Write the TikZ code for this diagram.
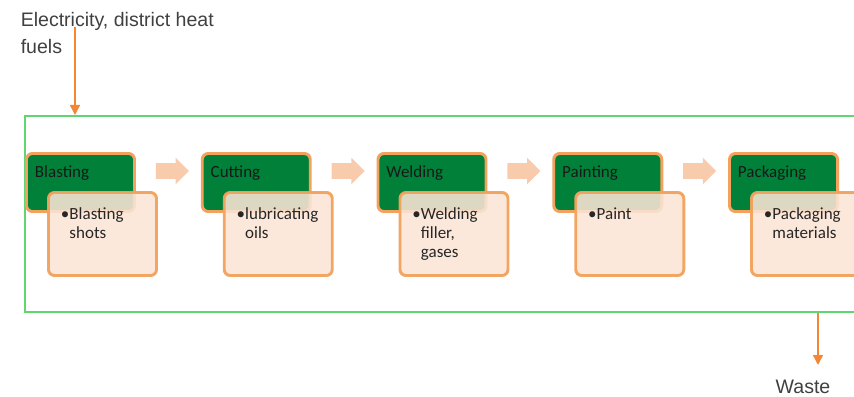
\documentclass[tikz,border=0pt]{standalone}
\usepackage{fontspec}
\setmainfont{Carlito}
\newfontfamily\notefont{Liberation Sans}
\usetikzlibrary{arrows.meta, shapes.arrows}

\definecolor{stepgreen}{RGB}{0,128,56}
\definecolor{steporange}{RGB}{242,162,92}
\definecolor{steppeach}{RGB}{251,229,214}
\definecolor{joinpeach}{RGB}{248,203,173}
\definecolor{framegreen}{RGB}{96,214,112}
\definecolor{flowcolor}{RGB}{245,135,50}
\definecolor{notegray}{RGB}{64,64,64}

\tikzset{
	stephead/.style = {draw = steporange, line width = 2.1pt, fill = stepgreen,
		rounded corners = 0.15cm, minimum width = 2.7cm, inner xsep = 0.2125cm,
		inner ysep = 0pt, text width = 2.275cm, align = left,
		text height = 0.6cm, text depth = 0.85cm, text = black!90,
		font = \fontsize{12.1}{13.5}\selectfont},
	stepitems/.style = {draw = steporange, line width = 2.1pt, fill = steppeach,
		fill opacity = 0.88, draw opacity = 0.95, text opacity = 1,
		rounded corners = 0.15cm, minimum width = 2.7cm, inner xsep = 0.3125cm,
		inner ysep = 0pt, text width = 2.075cm, align = left,
		text height = 0.675cm, text depth = 1.4cm, text = black!85,
		font = \fontsize{12.1}{13.5}\selectfont},
	stepjoin/.style = {single arrow, fill = joinpeach, draw = none,
		minimum height = 0.825cm, inner xsep = 0pt, inner ysep = 0.1875cm,
		single arrow head extend = 0.1375cm},
	flow/.style = {draw = flowcolor, line width = 1pt,
		-{Triangle[width = 0.25cm, length = 0.25cm]}},
	note/.style = {inner sep = 0pt, text = notegray, align = left,
		font = \notefont\fontsize{13.9}{19.2}\selectfont}
}

% bullet with the lines hanging under the first word
\newcommand{\items}[1]{\textbullet\begin{tabular}[t]{@{}l@{}}#1\end{tabular}}

\begin{document}
\begin{tikzpicture}[x = 0.025cm, y = -0.025cm]
	\useasboundingbox (0,0) rectangle (854,396);
	\clip (0,0) rectangle (854,396);

	% plant boundary
	\node[draw = framegreen, line width = 1.4pt, minimum width = 21.375cm,
		minimum height = 4.9cm, inner sep = 0pt] (plant) at (452.5,214) {};

	% energy in, waste out
	\node[note, anchor = north west] (energy) at (20.5,12) {Electricity, district heat\\fuels};
	\coordinate (inlet) at (75,27);
	\draw[flow] (inlet) -- (inlet |- plant.north);
	\node[note] (waste) at (803,387) {Waste};
	\coordinate (outlet) at (818,365);
	\draw[flow] (plant.south -| outlet) -- (outlet);

	% arrows between the steps
	\node[stepjoin] (join1) at (168.5,171) {};
	\node[stepjoin] (join2) at (344.25,171) {};
	\node[stepjoin] (join3) at (520,171) {};
	\node[stepjoin] (join4) at (695.75,171) {};

	% process steps
	\node[stephead] (blasting) at (80.5,182.5) {Blasting};
	\node[stepitems] (blastingin) at (102.5,234) {\items{Blasting\\shots}};

	\node[stephead] (cutting) at (256.25,182.5) {Cutting};
	\node[stepitems] (cuttingin) at (278.25,234) {\items{lubricating\\oils}};

	\node[stephead] (welding) at (432,182.5) {Welding};
	\node[stepitems] (weldingin) at (454,234) {\items{Welding\\filler,\\gases}};

	\node[stephead] (painting) at (607.75,182.5) {Painting};
	\node[stepitems] (paintingin) at (629.75,234) {\items{Paint}};

	\node[stephead] (packaging) at (783.5,182.5) {Packaging};
	\node[stepitems] (packagingin) at (805.5,234) {\items{Packaging\\materials}};
\end{tikzpicture}
\end{document}
